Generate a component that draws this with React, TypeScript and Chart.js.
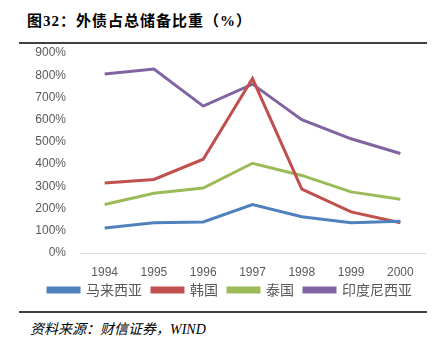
import React, { useEffect, useRef } from "react";
import { Chart, registerables } from "chart.js";

Chart.register(...registerables);

const years = ["1994", "1995", "1996", "1997", "1998", "1999", "2000"];
const malaysia = [113, 136, 140, 218, 163, 136, 143];
const korea = [315, 331, 422, 785, 287, 185, 136];
const thailand = [218, 269, 292, 404, 349, 275, 242];
const indonesia = [806, 828, 661, 760, 600, 514, 448];
const seriesNames = ["马来西亚", "韩国", "泰国", "印度尼西亚"];
const seriesColors = ["#4F81BD", "#C0504D", "#9BBB59", "#8064A2"];

const extendLabelClip = {
  id: "extendLabelClip",
  afterLayout(chart: any) {
    const x = chart.scales.x;
    if (x) x.bottom = x.top + 30;
    const y = chart.scales.y;
    if (y) y.left = 0;
  },
};

export default function App() {
  const ref = useRef<HTMLCanvasElement | null>(null);
  useEffect(() => {
    document.body.style.margin = "0";
    const values = [malaysia, korea, thailand, indonesia];
    const chart = new Chart(ref.current as HTMLCanvasElement, {
      type: "line",
      data: {
        labels: years,
        datasets: values.map((d, i) => ({
          label: seriesNames[i],
          data: d,
          borderColor: seriesColors[i],
          backgroundColor: seriesColors[i],
          borderWidth: 3,
          pointRadius: 0,
          tension: 0,
        })),
      },
      plugins: [extendLabelClip],
      options: {
        animation: false,
        responsive: false,
        layout: { padding: { left: 35, right: 14, top: 21, bottom: 0 } },
        plugins: {
          tooltip: { enabled: false },
          legend: {
            position: "bottom",
            labels: {
              boxWidth: 31,
              boxHeight: 4,
              padding: 10,
              color: "#595959",
              font: { family: '"Noto Sans CJK SC", sans-serif', size: 14 },
            },
          },
        },
        scales: {
          x: {
            offset: true,
            grid: { display: false },
            border: { display: true, color: "#D9D9D9", width: 1 },
            afterFit: (axis: any) => {
              axis.height = 20;
            },
            ticks: {
              color: "#595959",
              font: { family: '"Liberation Sans", sans-serif', size: 12 },
              padding: 4,
            },
          },
          y: {
            min: 0,
            max: 900,
            grid: { display: false },
            border: { display: false },
            afterFit: (axis: any) => {
              axis.width = 45;
            },
            ticks: {
              stepSize: 100,
              autoSkip: false,
              padding: 6,
              color: "#595959",
              font: { family: '"Liberation Sans", sans-serif', size: 12 },
              callback: (v: any) => v + "%",
            },
          },
        },
      },
    });
    return () => chart.destroy();
  }, []);

  return (
    <div style={{ position: "relative", width: 439, height: 345, background: "#fff", overflow: "hidden" }}>
      <div
        style={{
          position: "absolute",
          left: 27,
          top: 9,
          fontFamily: '"Liberation Serif", "Noto Sans CJK SC", serif',
          fontWeight: "bold",
          fontSize: 15,
          letterSpacing: 1,
          color: "#000",
          whiteSpace: "nowrap",
        }}
      >
        图32：外债占总储备比重（%）
      </div>
      <div style={{ position: "absolute", left: 19, top: 42, width: 408, height: 2, background: "#404040" }} />
      <canvas ref={ref} width={439} height={275} style={{ position: "absolute", left: 0, top: 32 }} />
      <div style={{ position: "absolute", left: 19, top: 311, width: 408, height: 2, background: "#404040" }} />
      <div
        style={{
          position: "absolute",
          left: 30,
          top: 318,
          fontFamily: '"Liberation Serif", "Noto Sans CJK SC", serif',
          fontStyle: "italic",
          fontSize: 14,
          color: "#000",
          whiteSpace: "nowrap",
        }}
      >
        资料来源：财信证券，WIND
      </div>
    </div>
  );
}
